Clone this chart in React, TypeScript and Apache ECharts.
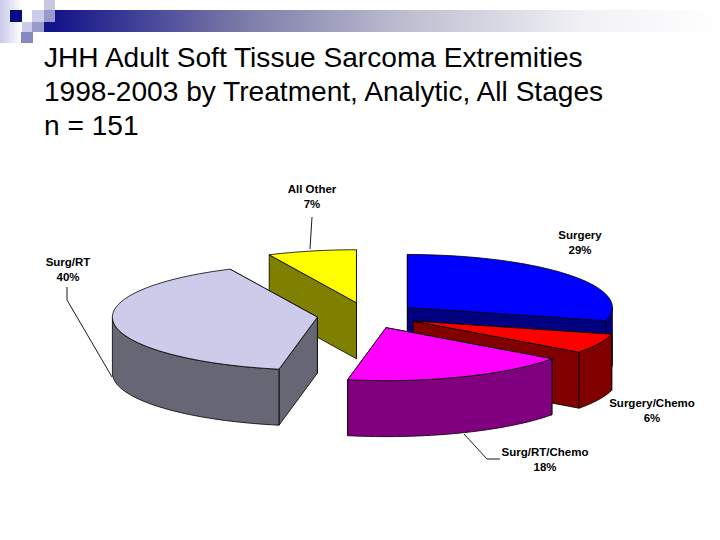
import React, { useEffect, useRef } from "react";
import * as echarts from "echarts";

// Data, in the pie's clockwise order from 12 o'clock
const categories = ["Surgery", "Surgery/Chemo", "Surg/RT/Chemo", "Surg/RT", "All Other"];
const percents = [29, 6, 18, 40, 7];
const titleLines = [
  "JHH Adult Soft Tissue Sarcoma Extremities",
  "1998-2003 by Treatment, Analytic, All Stages",
  "n = 151",
];

// Styles and layout
const topColors = ["#0000ff", "#ff0000", "#ff00ff", "#ccccea", "#ffff00"];
const wallColors = ["#000080", "#800000", "#800080", "#666675", "#808000"];
const paintOrder = [4, 0, 3, 1, 2];
const labelPositions = [
  [580, 242],
  [652, 410],
  [545, 459],
  [68, 269],
  [312, 196],
];
const leaderLines = [
  [[312, 217], [310, 249]],
  [[67, 287], [67, 300], [112, 377]],
  [[464, 434], [487, 459], [500, 459]],
];

const CX = 367.5;
const CY = 315.5;
const RX = 205;
const RY = 53;
const DEPTH = 56;
const EXPLODE = 50.5;
const RAD = Math.PI / 180;

const total = percents.reduce((a, b) => a + b, 0);

function renderSlice(params: any, api: any) {
  const index = api.value(1) as number;
  const value = api.value(0) as number;
  const before = percents.slice(0, index).reduce((a, b) => a + b, 0);
  const a0 = (before / total) * 360;
  const a1 = a0 + (value / total) * 360;
  const mid = (a0 + a1) / 2;
  const ax = CX + EXPLODE * Math.sin(mid * RAD);
  const ay = CY - (EXPLODE * RY * Math.cos(mid * RAD)) / RX;
  const rim = (deg: number, drop = 0): number[] => [
    ax + RX * Math.sin(deg * RAD),
    ay - RY * Math.cos(deg * RAD) + drop,
  ];
  const arc = (from: number, to: number, drop = 0) => {
    const out: number[][] = [];
    const n = Math.max(2, Math.ceil(Math.abs(to - from) / 2));
    for (let i = 0; i <= n; i++) out.push(rim(from + ((to - from) * i) / n, drop));
    return out;
  };
  const line = { stroke: "#000", lineWidth: 0.8, lineJoin: "round" };
  const wall = wallColors[index];
  const children: any[] = [];
  const radialWall = (deg: number) => {
    const p = rim(deg);
    children.push({
      type: "polygon",
      shape: {
        points: [[ax, ay], p, [p[0], p[1] + DEPTH], [ax, ay + DEPTH]],
      },
      style: { fill: wall, ...line },
    });
  };
  // The wall whose rim end is lower on the page is nearer the viewer: paint it last.
  [a0, a1].sort((p, q) => rim(p)[1] - rim(q)[1]).forEach(radialWall);
  const f0 = Math.max(a0, 90);
  const f1 = Math.min(a1, 270);
  if (f1 > f0) {
    children.push({
      type: "polygon",
      shape: { points: [...arc(f0, f1), ...arc(f1, f0, DEPTH)] },
      style: { fill: wall, ...line },
    });
  }
  children.push({
    type: "polygon",
    shape: { points: [[ax, ay], ...arc(a0, a1)] },
    style: { fill: topColors[index], ...line },
  });
  return { type: "group", children };
}

export default function App() {
  const ref = useRef<HTMLDivElement>(null);
  useEffect(() => {
    if (!ref.current) return;
    const chart = echarts.init(ref.current, undefined, { renderer: "svg" });
    const square = (x: number, y: number, w: number, h: number, fill: any) => ({
      type: "rect",
      shape: { x, y, width: w, height: h },
      style: { fill },
      silent: true,
    });
    const grad = (x2: number, stops: [number, string][]) =>
      new echarts.graphic.LinearGradient(0, 0, x2, 0, stops.map(([offset, color]) => ({ offset, color })));
    chart.setOption({
      animation: false,
      backgroundColor: "#ffffff",
      title: {
        text: titleLines.join("\n"),
        left: 44,
        top: 40,
        padding: 0,
        textStyle: {
          fontFamily: "Liberation Sans",
          fontSize: 28.1,
          fontWeight: "normal",
          color: "#000000",
          lineHeight: 34,
        },
      },
      graphic: [
        square(0, 0, 22, 43, grad(1, [[0, "#c8c8e8"], [1, "#ffffff"]])),
        square(55, 10, 665, 22, grad(1, [
          [0, "#14148a"],
          [0.28, "#7a7aa8"],
          [0.52, "#bcbcd0"],
          [0.8, "#f2f2f6"],
          [1, "#ffffff"],
        ])),
        square(44, 22, 11, 10, "#14148a"),
        square(10, 10, 12, 12, "#0a0a84"),
        square(32, 10, 12, 12, "#ccccea"),
        square(44, 0, 11, 10, "#c8c8e4"),
        square(44, 10, 11, 12, "#9999cc"),
        square(22, 22, 10, 10, "#ccccea"),
        square(32, 22, 12, 10, "#9999cc"),
        square(21, 32, 12, 11, "#8888c0"),
        ...leaderLines.map((points) => ({
          type: "polyline",
          shape: { points },
          style: { stroke: "#000", lineWidth: 0.9, fill: "none" },
          silent: true,
        })),
        ...categories.map((name, i) => ({
          type: "text",
          x: labelPositions[i][0],
          y: labelPositions[i][1],
          style: {
            text: `${name}\n${percents[i]}%`,
            fontFamily: "Liberation Sans",
            fontSize: 11.5,
            fontWeight: "bold",
            lineHeight: 15,
            fill: "#000",
            align: "center",
            verticalAlign: "middle",
          },
          silent: true,
        })),
      ],
      series: [
        {
          type: "custom",
          coordinateSystem: "none",
          silent: true,
          renderItem: renderSlice,
          data: paintOrder.map((i) => [percents[i], i]),
        },
      ],
    });
    return () => chart.dispose();
  }, []);
  return (
    <div
      ref={ref}
      style={{ position: "fixed", left: 0, top: 0, width: 720, height: 540 }}
    />
  );
}
